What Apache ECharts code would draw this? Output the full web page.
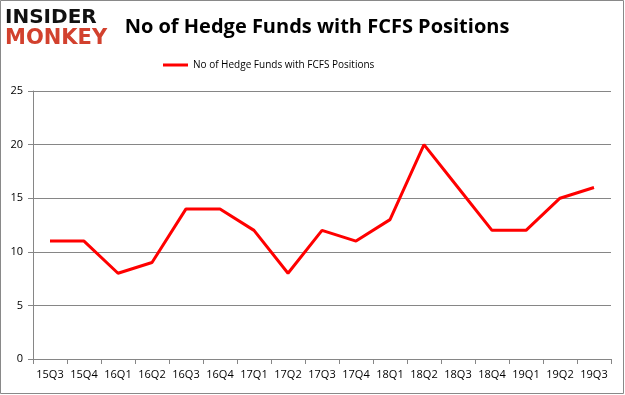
<!DOCTYPE html>
<html><head><meta charset="utf-8">
<script src="https://cdn.jsdelivr.net/npm/echarts@6/dist/echarts.min.js"></script>
<style>html,body{margin:0;padding:0;background:#fff}#c{width:625px;height:395px}</style>
</head><body><div id="c"></div>
<script>
const categories = ['15Q3','15Q4','16Q1','16Q2','16Q3','16Q4','17Q1','17Q2','17Q3','17Q4','18Q1','18Q2','18Q3','18Q4','19Q1','19Q2','19Q3'];
const values = [11,11,8,9,14,14,12,8,12,11,13,20,16,12,12,15,16];
const seriesName = 'No of Hedge Funds with FCFS Positions';
const chart = echarts.init(document.getElementById('c'));
chart.setOption({
  animation:false,
  graphic:[
    {type:'rect',shape:{x:0.5,y:0.5,width:623,height:393},style:{fill:'none',stroke:'#898989',lineWidth:1}},
    {type:'text',left:5,top:8,style:{text:'INSIDER',font:'900 20px "DejaVu Sans"',fill:'#111',letterSpacing:-1}},
    {type:'text',left:5,top:28,style:{text:'MONKEY',font:'900 21px "DejaVu Sans"',fill:'#d2412e',letterSpacing:-1}}
  ],
  title:{text:'No of Hedge Funds with FCFS Positions',left:312,textAlign:'center',top:12,
    textStyle:{fontFamily:'"Open Sans", "DejaVu Sans", sans-serif',fontSize:20,fontWeight:'bold',color:'#000'}},
  legend:{top:55,left:158,itemWidth:25,itemHeight:3,icon:'rect',itemGap:5,
    textStyle:{fontFamily:'"Open Sans", sans-serif',fontSize:10,color:'#000'},
    data:[seriesName]},
  grid:{left:33,right:14,top:91,bottom:36},
  xAxis:{type:'category',data:categories,boundaryGap:true,
    axisLine:{lineStyle:{color:'#868686'}},
    axisTick:{show:true,alignWithLabel:false,length:5,lineStyle:{color:'#868686'}},
    axisLabel:{color:'#000',fontFamily:'"Open Sans", sans-serif',fontSize:11,margin:10,interval:0}},
  yAxis:{type:'value',min:0,max:25,interval:5,
    axisLine:{show:true,lineStyle:{color:'#868686'}},
    axisTick:{show:true,length:5,lineStyle:{color:'#868686'}},
    splitLine:{lineStyle:{color:'#868686'}},
    axisLabel:{color:'#000',fontFamily:'"Open Sans", sans-serif',fontSize:11,margin:10}},
  series:[{type:'line',name:seriesName,data:values,symbol:'none',
    lineStyle:{color:'#ff0000',width:3},itemStyle:{color:'#ff0000'}}]
});
</script></body></html>
